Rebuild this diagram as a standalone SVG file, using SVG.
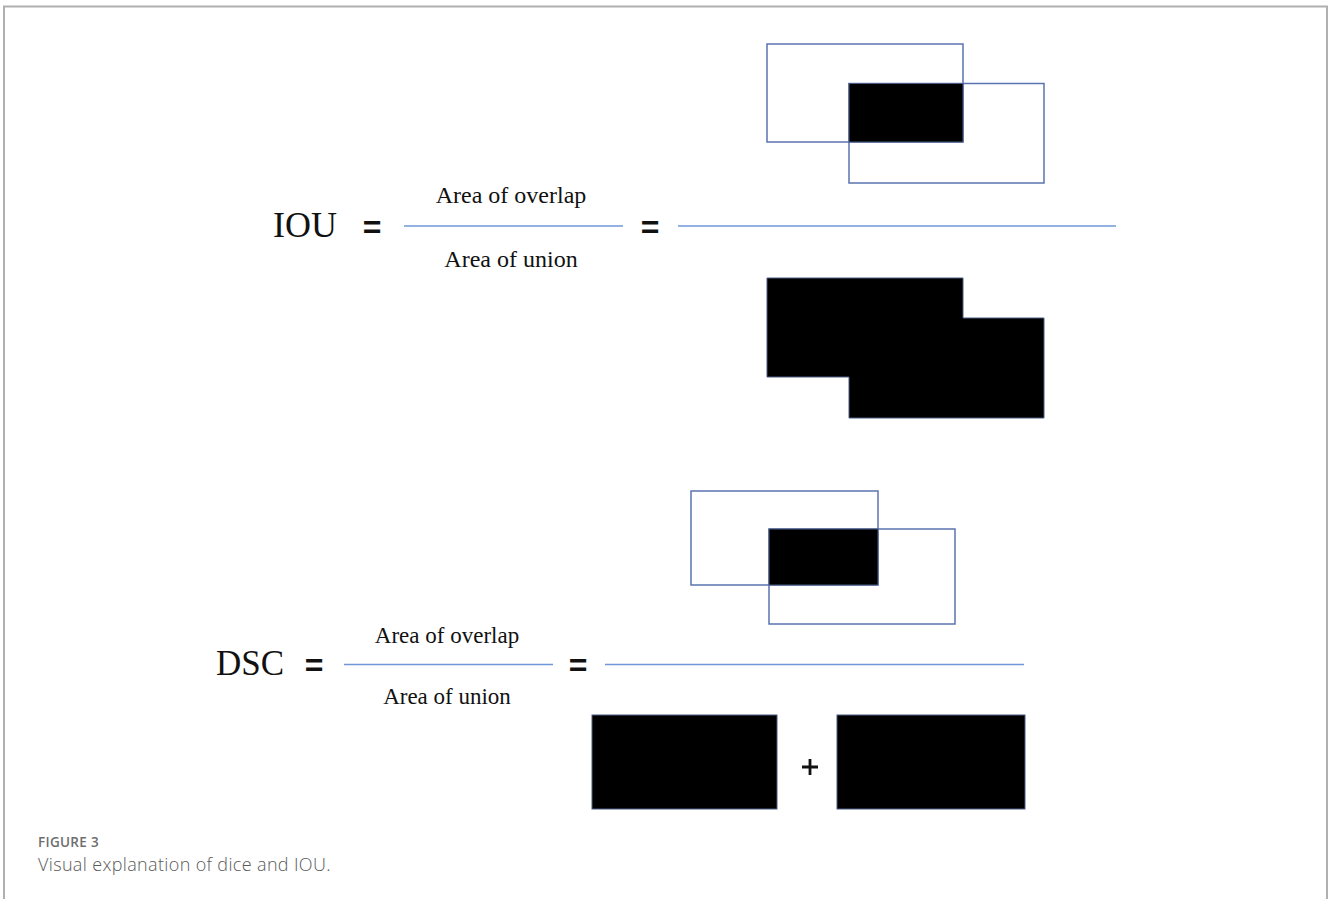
<svg xmlns="http://www.w3.org/2000/svg" width="1328" height="899" viewBox="0 0 1328 899">
<style>
.frame{fill:none;stroke:#b0b0b0;stroke-width:2}
.box{fill:none;stroke:#5b73b0;stroke-width:1.5}
.blk{fill:#000;stroke:#4a5a80;stroke-width:1}
.bar{stroke:#6f97d8;stroke-width:1.5}
.tnr{font-family:"Liberation Serif",serif;fill:#111}
.eq{font-family:"Liberation Sans",sans-serif;font-weight:bold;fill:#111}
.cap1{font-family:"Open Sans","Liberation Sans",sans-serif;font-size:13.5px;fill:#6e6e6e;font-weight:600;letter-spacing:0.3px}
.cap2{font-family:"Open Sans","Liberation Sans",sans-serif;font-size:18px;fill:#5a5a5a;font-weight:300;letter-spacing:0.35px}
</style>
<rect width="1328" height="899" fill="#fff"/>
<path class="frame" d="M4 899 V6.5 H1327 V899"/>

<g id="iou">
  <text class="tnr" x="273" y="237" font-size="36">IOU</text>
  <text class="eq" x="372" y="238" font-size="32" text-anchor="middle">=</text>
  <text class="tnr" x="511" y="203" font-size="24" text-anchor="middle">Area of overlap</text>
  <text class="tnr" x="511" y="267" font-size="24" text-anchor="middle">Area of union</text>
  <text class="eq" x="650" y="238" font-size="32" text-anchor="middle">=</text>
</g>
<g id="iou-overlap">
  <rect class="box" x="767" y="44" width="196" height="98"/>
  <rect class="box" x="849" y="83.5" width="195" height="99.5"/>
  <rect class="blk" x="849" y="83.5" width="114" height="58.5"/>
</g>
<g id="iou-union">
  <path class="blk" d="M767 278 H963 V318 H1044 V418 H849 V377 H767 Z"/>
</g>

<g id="dsc">
  <text class="tnr" x="216" y="675" font-size="35">DSC</text>
  <text class="eq" x="314" y="676" font-size="32" text-anchor="middle">=</text>
  <text class="tnr" x="447" y="643" font-size="23" text-anchor="middle">Area of overlap</text>
  <text class="tnr" x="447" y="704" font-size="23" text-anchor="middle">Area of union</text>
  <text class="eq" x="578" y="676" font-size="32" text-anchor="middle">=</text>
</g>
<g id="dsc-overlap">
  <rect class="box" x="691" y="491" width="187" height="94"/>
  <rect class="box" x="769" y="529" width="186" height="95"/>
  <rect class="blk" x="769" y="529" width="109" height="56"/>
</g>
<g id="dsc-sum">
  <rect class="blk" x="592" y="715" width="185" height="94" stroke="#5b73b0"/>
  <path d="M802 767 H818 M810 759 V775" stroke="#111" stroke-width="2.8"/>
  <rect class="blk" x="837" y="715" width="188" height="94" stroke="#888"/>
</g>

<g id="connectors">
  <line class="bar" x1="404" y1="226" x2="623" y2="226"/>
  <line class="bar" x1="678" y1="226" x2="1116" y2="226"/>
  <line class="bar" x1="344" y1="664.5" x2="553" y2="664.5"/>
  <line class="bar" x1="605" y1="664.5" x2="1024" y2="664.5"/>
</g>

<g id="caption">
  <text class="cap1" x="38" y="847">FIGURE 3</text>
  <text class="cap2" x="38" y="871">Visual explanation of dice and IOU.</text>
</g>
</svg>
